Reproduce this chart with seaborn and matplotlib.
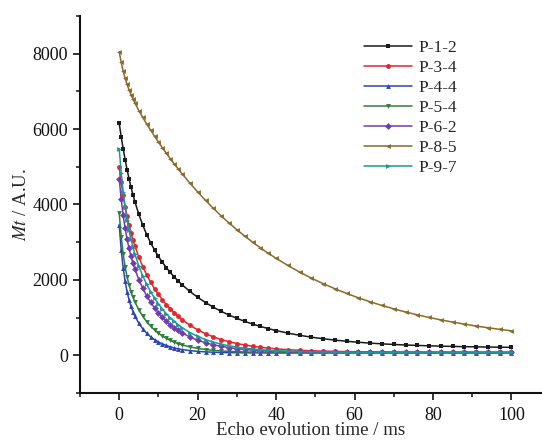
import pandas as pd
import seaborn as sns
import matplotlib.pyplot as plt
from matplotlib.ticker import MultipleLocator

# echo evolution time (ms)
time_ms = [0, 0.5, 1, 1.5, 2, 2.5, 3, 3.5, 4, 5, 6, 7, 8, 9, 10, 11, 12, 13, 14, 15, 16,
           18, 20, 22, 24, 26, 28, 30, 32, 34, 36, 38, 40, 43, 46, 49, 52, 55, 58, 61, 64,
           67, 70, 73, 76, 79, 82, 85, 88, 91, 94, 97, 100]

# Mt (A.U.)
p_1_2 = [6150, 5799, 5480, 5189, 4925, 4683, 4461, 4257, 4070, 3737, 3451, 3202, 2984, 2792,
         2620, 2465, 2326, 2198, 2081, 1972, 1873, 1693, 1536, 1397, 1274, 1164, 1066, 978,
         898, 827, 764, 706, 655, 587, 529, 479, 437, 401, 370, 344, 321, 302, 286, 272, 260,
         250, 241, 234, 227, 222, 217, 213, 210]
p_3_4 = [4980, 4582, 4240, 3943, 3684, 3454, 3250, 3065, 2897, 2604, 2352, 2133, 1939, 1766,
         1611, 1471, 1344, 1229, 1126, 1031, 945, 797, 673, 571, 487, 417, 359, 311, 271, 238,
         211, 189, 170, 148, 131, 118, 109, 102, 96, 92, 89, 87, 85, 84, 83, 82, 82, 81, 81,
         80, 80, 80, 80]
p_4_4 = [3460, 2800, 2318, 1960, 1685, 1471, 1298, 1156, 1037, 847, 700, 584, 491, 415, 352,
         301, 259, 224, 195, 172, 152, 123, 103, 89, 80, 73, 69, 66, 64, 63, 62, 61, 61, 60,
         60, 60, 60, 60, 60, 60, 60, 60, 60, 60, 60, 60, 60, 60, 60, 60, 60, 60, 60]
p_5_4 = [3770, 3149, 2693, 2347, 2080, 1866, 1690, 1541, 1413, 1202, 1033, 892, 773, 672, 585,
         512, 449, 395, 348, 309, 275, 221, 181, 151, 130, 114, 102, 94, 87, 83, 79, 77, 75,
         73, 72, 71, 70, 70, 70, 70, 70, 70, 70, 70, 70, 70, 70, 70, 70, 70, 70, 70, 70]
p_6_2 = [4675, 4141, 3714, 3366, 3078, 2836, 2626, 2443, 2282, 2006, 1775, 1578, 1408, 1257,
         1125, 1008, 904, 812, 730, 657, 593, 484, 398, 331, 277, 235, 201, 175, 154, 137, 124,
         114, 106, 97, 90, 86, 82, 80, 79, 78, 77, 76, 75, 75, 75, 75, 75, 75, 75, 75, 75, 75, 75]
p_8_5 = [8050, 7767, 7537, 7345, 7182, 7040, 6912, 6796, 6688, 6489, 6307, 6134, 5968, 5809,
         5655, 5504, 5359, 5218, 5080, 4947, 4817, 4567, 4331, 4108, 3897, 3697, 3508, 3329,
         3160, 3000, 2849, 2706, 2570, 2381, 2206, 2046, 1898, 1763, 1638, 1523, 1417, 1320,
         1230, 1148, 1072, 1002, 938, 879, 825, 775, 729, 687, 648]
p_9_7 = [5475, 4839, 4335, 3928, 3593, 3312, 3072, 2864, 2680, 2367, 2104, 1881, 1685, 1514,
         1361, 1225, 1103, 995, 898, 812, 734, 603, 498, 413, 346, 292, 249, 214, 186, 164,
         146, 132, 121, 108, 99, 92, 87, 84, 81, 79, 78, 77, 77, 76, 76, 75, 75, 75, 75, 75,
         75, 75, 75]

samples = ['P-1-2', 'P-3-4', 'P-4-4', 'P-5-4', 'P-6-2', 'P-8-5', 'P-9-7']
series = [p_1_2, p_3_4, p_4_4, p_5_4, p_6_2, p_8_5, p_9_7]
colors = ['#1a1a1a', '#e3262b', '#2a45b5', '#2f7d3b', '#6f3cb4', '#8c6a2c', '#1b9a93']
markers = ['s', 'o', '^', 'v', 'D', '<', '>']

df = pd.concat([pd.DataFrame({'t': time_ms, 'Mt': vals, 'sample': name})
                for name, vals in zip(samples, series)], ignore_index=True)

sns.set_style('ticks')
plt.rcParams['font.family'] = ['Liberation Serif', 'DejaVu Serif']
plt.rcParams['mathtext.fontset'] = 'stix'

fig = plt.figure(figsize=(5.42, 4.42), dpi=100)
ax = fig.add_axes([0.1476, 0.111, 0.851, 0.853])

sns.lineplot(data=df, x='t', y='Mt', hue='sample', style='sample',
             palette=dict(zip(samples, colors)), markers=dict(zip(samples, markers)),
             dashes=False, linewidth=1.1, markersize=3.5, markeredgewidth=0, ax=ax)

ax.set_xlim(-10, 107.6)
ax.set_ylim(-1000, 9000)
ax.xaxis.set_major_locator(MultipleLocator(20))
ax.xaxis.set_minor_locator(MultipleLocator(10))
ax.yaxis.set_major_locator(MultipleLocator(2000))
ax.yaxis.set_minor_locator(MultipleLocator(1000))
ax.tick_params(which='major', direction='out', length=5, width=1.2, labelsize=13, colors='#111111')
ax.tick_params(which='minor', direction='out', length=3, width=1.2)
ax.tick_params(axis='x', which='major', pad=5)
sns.despine(ax=ax)
for s in ['left', 'bottom']:
    ax.spines[s].set_linewidth(1.5)
    ax.spines[s].set_color('#111111')

ax.set_xlabel('Echo evolution time / ms', fontsize=13.5, labelpad=-1)
ax.set_ylabel('$Mt$ / A.U.', fontsize=13.5, labelpad=2)

ax.legend(frameon=False, loc='upper left', bbox_to_anchor=(0.6, 0.955), fontsize=12.5,
          handlelength=2.8, handletextpad=0.35, labelspacing=0.22, borderaxespad=0)

fig.savefig('out.png', dpi=100)
